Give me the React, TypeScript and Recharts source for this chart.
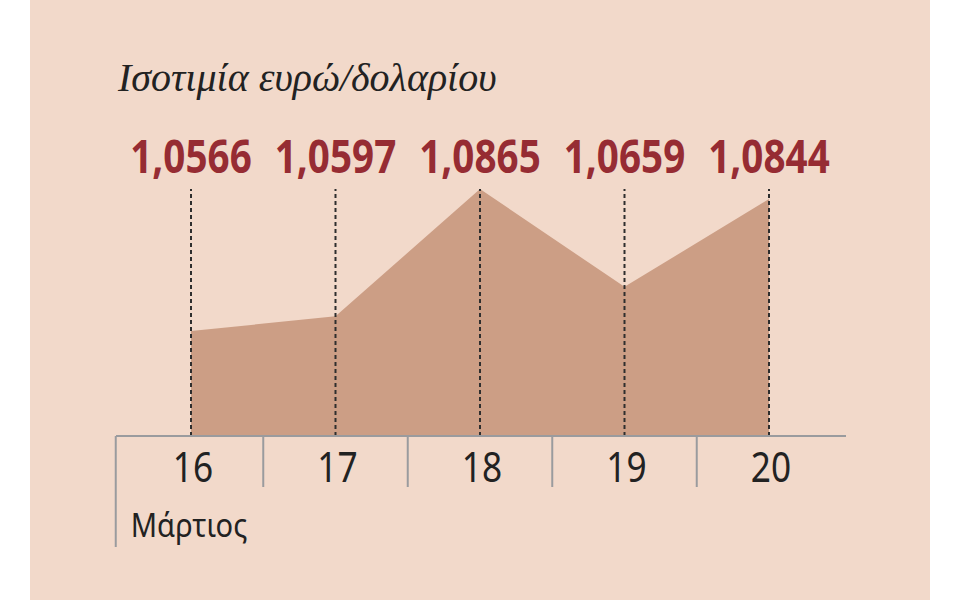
import { AreaChart, Area, XAxis, YAxis, ReferenceLine } from 'recharts'

const days = ['16', '17', '18', '19', '20']
const rates = [1.0566, 1.0597, 1.0865, 1.0659, 1.0844]
const rateLabels = ['1,0566', '1,0597', '1,0865', '1,0659', '1,0844']
const monthLabel = 'Μάρτιος'
const title = 'Ισοτιμία ευρώ/δολαρίου'

const data = days.map((d, i) => ({ day: d, rate: rates[i] }))

const BG = '#f2d9ca'
const FILL = '#cc9e85'
const RED = '#962c33'
const GRAY = '#9a9b9e'
const INK = '#222'
const STEP = 144.5
const SANS = "'Noto Sans', 'Open Sans', sans-serif"

function RateTick(props: any) {
  const { x, y, index } = props
  return (
    <text transform={`translate(${x},${y}) scale(0.84,1)`} textAnchor="middle"
      fill={RED} fontSize={46} fontWeight={700} fontFamily={SANS}>
      {rateLabels[index]}
    </text>
  )
}

function DayTick(props: any) {
  const { x, y, payload, index } = props
  const sepX = x - STEP / 2
  return (
    <g>
      {index === 0 ? (
        <>
          <line x1={sepX - 3} x2={sepX - 3} y1={y} y2={y + 111} stroke={GRAY} strokeWidth={2} />
          <text transform={`translate(${sepX + 12},${y + 101}) scale(0.88,1)`}
            fill={INK} fontSize={33} fontFamily={SANS}>
            {monthLabel}
          </text>
        </>
      ) : (
        <line x1={sepX} x2={sepX} y1={y} y2={y + 51} stroke={GRAY} strokeWidth={2} />
      )}
      <text transform={`translate(${x + 2},${y + 46}) scale(0.84,1)`} textAnchor="middle"
        fill={INK} fontSize={42} fontFamily={SANS}>
        {payload.value}
      </text>
    </g>
  )
}

export default function App() {
  return (
    <div style={{ position: 'absolute', left: 0, top: 0, width: 960, height: 600, background: '#fff' }}>
      <div style={{ position: 'absolute', left: 30, top: 0, width: 900, height: 600, background: BG }} />
      <div style={{
        position: 'absolute', left: 118, top: 58, fontSize: 40, lineHeight: '40px',
        fontFamily: "'Liberation Serif', serif", fontStyle: 'italic', color: INK, whiteSpace: 'nowrap',
      }}>
        {title}
      </div>
      <div style={{ position: 'absolute', left: 0, top: 0 }}>
        <AreaChart width={960} height={600} data={data}
          margin={{ top: 129, right: 114, bottom: 104, left: 116 }}>
          <XAxis xAxisId="top" dataKey="day" orientation="top" height={60}
            padding={{ left: 75, right: 77 }}
            axisLine={false} tickLine={false} tickSize={0} tickMargin={16}
            tick={<RateTick />} interval={0} />
          <XAxis dataKey="day" height={60} padding={{ left: 75, right: 77 }}
            axisLine={{ stroke: GRAY, strokeWidth: 2 }} tickLine={false} tickSize={0} tickMargin={0}
            tick={<DayTick />} interval={0} />
          <YAxis hide domain={[1.0345, 1.0865]} allowDataOverflow />
          <Area dataKey="rate" type="linear" fill={FILL} fillOpacity={1} stroke="none"
            isAnimationActive={false} />
          {days.map((d) => (
            <ReferenceLine key={d} x={d} stroke="#2e2e2e" strokeWidth={2} strokeDasharray="4 3" />
          ))}
        </AreaChart>
      </div>
    </div>
  )
}
